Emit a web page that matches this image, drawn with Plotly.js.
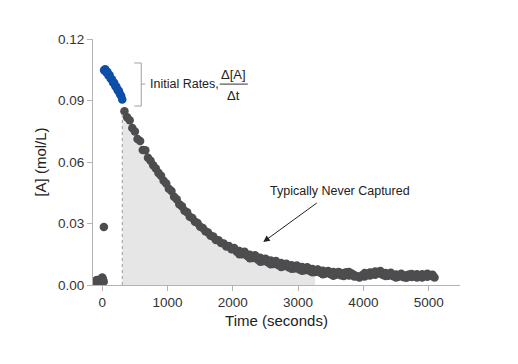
<!DOCTYPE html>
<html>
<head>
<meta charset="utf-8">
<script src="https://cdn.plot.ly/plotly-3.0.1.min.js"></script>
<style>html,body{margin:0;padding:0;background:#fff;}#chart{width:518px;height:364px;}</style>
</head>
<body>
<div id="chart"></div>
<script>
// ---- data ----
var baselineTime = [-110, -85, -62, -40, -18, 0, 12, 22];
var baselineConc = [0.0018, 0.0024, 0.0015, 0.0026, 0.0020, 0.0036, 0.0027, 0.0016];
var outlierTime = [25];
var outlierConc = [0.0283];

var initialTime = [28, 45, 60, 78, 95, 112, 130, 148, 165, 182, 200, 218, 236, 254, 272, 290, 306];
var initialConc = [0.1048, 0.1052, 0.1038, 0.1040, 0.1022, 0.1024, 0.1006, 0.1004, 0.0988, 0.0986, 0.0970, 0.0967, 0.0950, 0.0948, 0.0930, 0.0922, 0.0905];

var decayTime = [340, 380, 420, 460, 500, 540, 580, 620, 660, 700, 740, 780, 820, 860, 900, 940, 980,
  1020, 1060, 1100, 1140, 1180, 1220, 1260, 1300, 1340, 1380, 1420, 1460, 1500, 1540, 1580, 1620, 1660,
  1700, 1740, 1780, 1820, 1860, 1900, 1940, 1980, 2020, 2060, 2100, 2140, 2180, 2220, 2260, 2300, 2340,
  2380, 2420, 2460, 2500, 2540, 2580, 2620, 2660, 2700, 2740, 2780, 2820, 2860, 2900, 2940, 2980, 3020,
  3060, 3100, 3140, 3180, 3220, 3260, 3300, 3340, 3380, 3420, 3460, 3500, 3540, 3580, 3620, 3660, 3700,
  3740, 3780, 3820, 3860, 3900, 3940, 3980, 4020, 4060, 4100, 4140, 4180, 4220, 4260, 4300, 4340, 4380,
  4420, 4460, 4500, 4540, 4580, 4620, 4660, 4700, 4740, 4780, 4820, 4860, 4900, 4940, 4980, 5020, 5060, 5090];
var decayConc = [0.0848, 0.0818, 0.0804, 0.0766, 0.0749, 0.0712, 0.0702, 0.0658, 0.0657, 0.0621, 0.0606, 0.0584, 0.0568, 0.0547, 0.0533, 0.0509, 0.0495,
  0.0470, 0.0458, 0.0430, 0.0418, 0.0394, 0.0384, 0.0362, 0.0355, 0.0333, 0.0327, 0.0309, 0.0302, 0.0284, 0.0278, 0.0262, 0.0256, 0.0240,
  0.0236, 0.0220, 0.0218, 0.0205, 0.0202, 0.0188, 0.0190, 0.0174, 0.0178, 0.0162, 0.0166, 0.0150, 0.0158, 0.0141, 0.0148, 0.0132, 0.0140,
  0.0124, 0.0133, 0.0116, 0.0126, 0.0110, 0.0120, 0.0102, 0.0113, 0.0097, 0.0107, 0.0091, 0.0101, 0.0086, 0.0096, 0.0081, 0.0092, 0.0076,
  0.0088, 0.0072, 0.0083, 0.0068, 0.0078, 0.0064, 0.0074, 0.0060, 0.0070, 0.0056, 0.0066, 0.0052, 0.0063, 0.0050, 0.0060, 0.0047, 0.0058,
  0.0062, 0.0046, 0.0056, 0.0049, 0.0043, 0.0039, 0.0048, 0.0041, 0.0053, 0.0046, 0.0059, 0.0050, 0.0063, 0.0055, 0.0049, 0.0058, 0.0045,
  0.0054, 0.0043, 0.0051, 0.0040, 0.0049, 0.0038, 0.0047, 0.0051, 0.0039, 0.0046, 0.0053, 0.0041, 0.0037, 0.0047, 0.0055, 0.0049, 0.0043, 0.0037];

// extra overlapping readings in the noisy tail
var tailTime = [2020, 2100, 2180, 2260, 2340, 2420, 2500, 2580, 2660, 2740, 2820, 2900, 2980, 3060, 3140, 3220, 3300, 3380,
  3460, 3540, 3620, 3700, 3780, 3860, 3940, 4020, 4100, 4180, 4260, 4340, 4420, 4500, 4580, 4660, 4740, 4820, 4900, 4980, 5060];
var tailConc = [0.0180, 0.0150, 0.0162, 0.0130, 0.0145, 0.0114, 0.0128, 0.0101, 0.0117, 0.0088, 0.0104, 0.0079, 0.0095, 0.0070, 0.0087, 0.0062, 0.0076, 0.0052,
  0.0068, 0.0045, 0.0064, 0.0044, 0.0063, 0.0041, 0.0037, 0.0058, 0.0061, 0.0066, 0.0068, 0.0044, 0.0060, 0.0037, 0.0055, 0.0035, 0.0054, 0.0037, 0.0053, 0.0040, 0.0050];

var shadeStart = 306;   // first "captured" time, dashed line
var shadeEnd = 3262;    // end of shaded region
var shadeStartConc = 0.0862;

var xTickVals = [0, 1000, 2000, 3000, 4000, 5000];
var yTickVals = [0.00, 0.03, 0.06, 0.09, 0.12];

// ---- build shaded area from the decay series ----
var shadeX = [shadeStart], shadeY = [shadeStartConc];
for (var i = 0; i < decayTime.length; i++) {
  if (decayTime[i] > shadeStart && decayTime[i] <= shadeEnd) { shadeX.push(decayTime[i]); shadeY.push(decayConc[i]); }
}
shadeX.push(shadeEnd); shadeY.push(shadeY[shadeY.length - 1]);

var GRAY = '#4d4d4f', BLUE = '#0d4ea6', AXIS = '#b3b3b3';
var FONT = '"Liberation Sans", Arial, sans-serif';

var traces = [
  {x: shadeX, y: shadeY, type: 'scatter', mode: 'lines', fill: 'tozeroy', fillcolor: '#e6e6e7',
   line: {width: 0, color: 'rgba(0,0,0,0)'}, hoverinfo: 'skip', showlegend: false},
  {x: baselineTime.concat(outlierTime), y: baselineConc.concat(outlierConc), type: 'scatter', mode: 'markers',
   marker: {color: GRAY, size: 8.5}, showlegend: false},
  {x: decayTime, y: decayConc, type: 'scatter', mode: 'markers', marker: {color: GRAY, size: 8.5}, showlegend: false},
  {x: tailTime, y: tailConc, type: 'scatter', mode: 'markers', marker: {color: GRAY, size: 8.5}, showlegend: false},
  {x: initialTime, y: initialConc, type: 'scatter', mode: 'markers', marker: {color: BLUE, size: 8.5}, showlegend: false}
];

var layout = {
  width: 518, height: 364,
  margin: {l: 93, r: 58, t: 39, b: 79},
  paper_bgcolor: '#fff', plot_bgcolor: '#fff',
  font: {family: FONT, size: 14, color: '#333'},
  showlegend: false,
  xaxis: {
    range: [-142, 5480], showgrid: false, zeroline: false, showline: true, linecolor: AXIS, linewidth: 1,
    ticks: 'outside', ticklen: 5, tickcolor: AXIS, tickvals: xTickVals, ticktext: xTickVals.map(String),
    tickfont: {size: 13.5, color: '#333'},
    title: {text: 'Time (seconds)', font: {family: FONT, size: 15, color: '#222'}, standoff: 6}
  },
  yaxis: {
    range: [0, 0.12], showgrid: false, zeroline: false, showline: true, linecolor: AXIS, linewidth: 1,
    ticks: 'outside', ticklen: 5, tickcolor: AXIS, tickvals: yTickVals, ticktext: yTickVals.map(function(v){return v.toFixed(2);}),
    tickfont: {size: 13.5, color: '#333'},
    title: {text: '[A] (mol/L)', font: {family: FONT, size: 15, color: '#222'}, standoff: 7}
  },
  shapes: [
    {type: 'line', xref: 'x', yref: 'y', x0: shadeStart, x1: shadeStart, y0: 0, y1: 0.085, layer: 'above',
     line: {color: '#999', width: 1, dash: 'dot'}},
    // bracket
    {type: 'line', xref: 'x', yref: 'y', x0: 597, x1: 597, y0: 0.0873, y1: 0.1083, line: {color: '#a0a0a0', width: 1}},
    {type: 'line', xref: 'x', yref: 'y', x0: 490, x1: 597, y0: 0.1083, y1: 0.1083, line: {color: '#a0a0a0', width: 1}},
    {type: 'line', xref: 'x', yref: 'y', x0: 490, x1: 597, y0: 0.0873, y1: 0.0873, line: {color: '#a0a0a0', width: 1}},
    {type: 'line', xref: 'x', yref: 'y', x0: 597, x1: 658, y0: 0.098, y1: 0.098, line: {color: '#a0a0a0', width: 1}},
    // fraction bar
    {type: 'line', xref: 'x', yref: 'y', x0: 1800, x1: 2230, y0: 0.098, y1: 0.098, line: {color: '#333', width: 1}}
  ],
  annotations: [
    {x: 704, y: 0.098, xref: 'x', yref: 'y', text: 'Initial Rates,', showarrow: false, xanchor: 'left', yanchor: 'middle',
     font: {family: FONT, size: 12.5, color: '#222'}},
    {x: 2015, y: 0.1027, xref: 'x', yref: 'y', text: 'Δ[A]', showarrow: false, xanchor: 'center', yanchor: 'middle',
     font: {family: FONT, size: 13, color: '#222'}},
    {x: 2015, y: 0.0926, xref: 'x', yref: 'y', text: 'Δt', showarrow: false, xanchor: 'center', yanchor: 'middle',
     font: {family: FONT, size: 13, color: '#222'}},
    {x: 3645, y: 0.0459, xref: 'x', yref: 'y', text: 'Typically Never Captured', showarrow: false, xanchor: 'center', yanchor: 'middle',
     font: {family: FONT, size: 12.5, color: '#222'}},
    {x: 2466, y: 0.021, xref: 'x', yref: 'y', text: '', showarrow: true, arrowhead: 2, arrowsize: 1.3, arrowwidth: 1,
     arrowcolor: '#222', ax: 55, ay: -40, standoff: 0}
  ]
};

Plotly.newPlot('chart', traces, layout, {displayModeBar: false, staticPlot: true});
</script>
</body>
</html>
